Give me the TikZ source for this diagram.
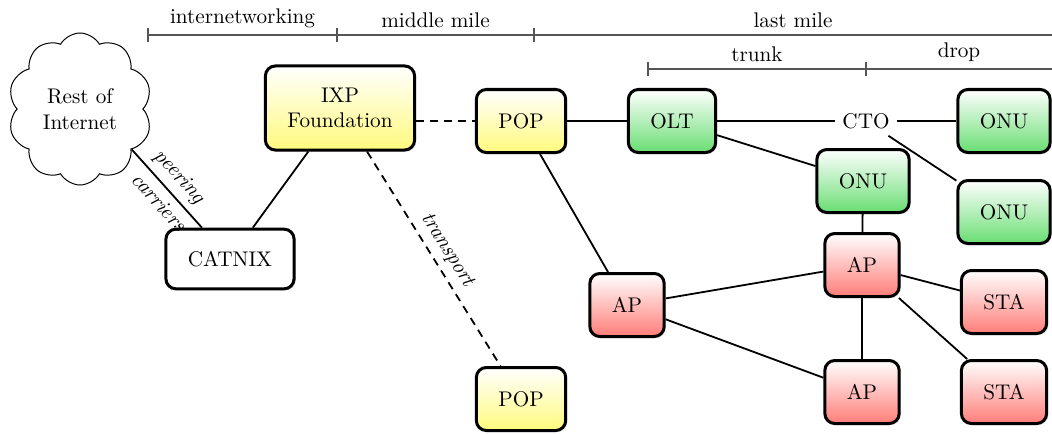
\documentclass[tikz,border=0pt]{standalone}
\usetikzlibrary{shapes.symbols,shadows}
\definecolor{ygrad}{RGB}{255,250,125}
\definecolor{ggrad}{RGB}{105,222,115}
\definecolor{rgrad}{RGB}{255,125,120}
\definecolor{bargray}{RGB}{85,85,85}
\newcommand\dgmfont{\fontsize{10.6}{12.7}\selectfont}
\tikzset{
  every node/.style={font=\dgmfont},
  box/.style={draw, line width=1.5pt, rounded corners=5pt, inner sep=11pt, align=center,
    drop shadow={opacity=0.2, shadow xshift=0.8pt, shadow yshift=-0.8pt}},
  wbox/.style={box, fill=white},
  cbox/.style={box, minimum height=31.5pt},
  ybox/.style={cbox, top color=white, bottom color=ygrad},
  gbox/.style={cbox, top color=white, bottom color=ggrad},
  rbox/.style={cbox, top color=white, bottom color=rgrad},
  link/.style={line width=0.9pt},
  dlink/.style={link, dash pattern=on 4pt off 3pt},
  bar/.style={draw=bargray, line width=0.75pt},
  barlab/.style={anchor=south},
  lab/.style={font=\dgmfont\itshape, sloped},
}
\begin{document}
\begin{tikzpicture}[x=0.5pt,y=-0.5pt]
\useasboundingbox (0,0) rectangle (1052,433);

% scale bars
\coordinate (b1a) at (148,35);
\coordinate (b1b) at (337,35);
\coordinate (b1c) at (534,35);
\coordinate (b1e) at (1052,35);
\coordinate (b2a) at (648,69);
\coordinate (b2b) at (866,69);
\coordinate (b2e) at (1052,69);
\draw[bar] (b1a) -- (b1e);
\draw[bar] (b2a) -- (b2e);
\foreach \c in {b1a,b1b,b1c,b2a,b2b}
  \draw[bar] ([yshift=3.5pt]\c) -- ([yshift=-3.5pt]\c);
\node[barlab] (linet) at (242.5,35) {internetworking};
\node[barlab] (lmid) at (435.5,35) {middle mile};
\node[barlab] (llast) at (793,35) {last mile};
\node[barlab] (ltrunk) at (757,69) {trunk};
\node[barlab] (ldrop) at (959,69) {drop};

% nodes
\node[cloud, draw, line width=0.5pt, cloud puffs=10, cloud puff arc=120, aspect=0.95,
      inner sep=0pt, minimum width=72pt, minimum height=76pt, align=center]
      (cloud) at (80,109) {Rest of\\Internet};
\node[ybox] (ixp) at (340,108) {IXP\\Foundation};
\node[wbox] (catnix) at (230,259) {CATNIX};
\node[ybox] (pop1) at (521,121) {POP};
\node[ybox] (pop2) at (521,399) {POP};
\node[gbox] (olt) at (672,121) {OLT};
\node (cto) at (866,121) {CTO};
\node[gbox] (onu1) at (1004,121) {ONU};
\node[gbox] (onu2) at (863,181) {ONU};
\node[gbox] (onu3) at (1004,212) {ONU};
\node[rbox] (ap1) at (627,305) {AP};
\node[rbox] (ap2) at (862,265) {AP};
\node[rbox] (ap3) at (862,392) {AP};
\node[rbox] (sta1) at (1004,302) {STA};
\node[rbox] (sta2) at (1004,392) {STA};

% connectors
\draw[link] (cloud.-38) -- node[lab, above, pos=0.5] {peering}
                           node[lab, below, pos=0.55] {carriers} (catnix);
\draw[link] (ixp) -- (catnix);
\draw[dlink] (ixp.east |- pop1) -- (pop1);
\draw[dlink] (ixp) -- node[lab, above, pos=0.5] {transport} (pop2);
\draw[link] (pop1) -- (olt);
\draw[link] (pop1) -- (ap1);
\draw[link] (olt) -- (cto);
\draw[link] (cto) -- (onu1);
\draw[link] (olt) -- (onu2);
\draw[link] (cto) -- (onu3);
\draw[link] (onu2) -- (ap2);
\draw[link] (ap1) -- (ap2);
\draw[link] (ap1) -- (ap3);
\draw[link] (ap2) -- (ap3);
\draw[link] (ap2) -- (sta1);
\draw[link] (ap2) -- (sta2);
\end{tikzpicture}
\end{document}
